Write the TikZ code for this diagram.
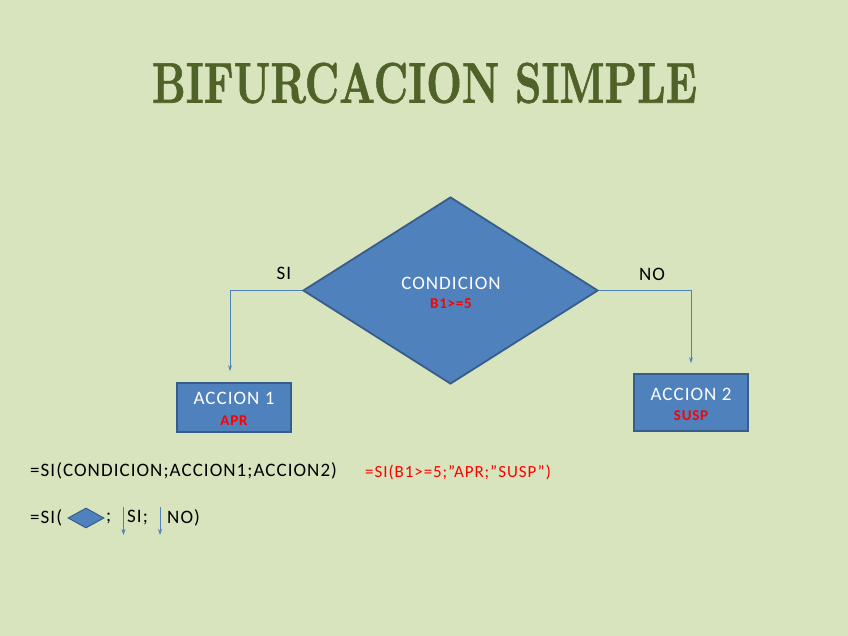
\documentclass[tikz,border=0pt]{standalone}
\usepackage{fontspec}
\setmainfont{Carlito}[LetterSpace=5.5]
\newfontfamily\titlefont{lmroman10-bold}[Extension=.otf, FakeBold=1.2]
\newfontfamily\redfont{Carlito}[LetterSpace=5]
\usetikzlibrary{shapes.geometric,arrows.meta}
\definecolor{bg}{HTML}{D7E4BD}
\definecolor{titlec}{HTML}{4F6228}
\definecolor{shapefill}{HTML}{4F81BD}
\definecolor{shapeline}{HTML}{385D8A}
\definecolor{redtxt}{HTML}{FF0000}
\tikzset{
  decision/.style={diamond, fill=shapefill, draw=shapeline, line width=1.8pt, inner sep=0pt, minimum width=295pt, minimum height=187pt},
  actionbox/.style={rectangle, fill=shapefill, draw=shapeline, line width=1.8pt, inner sep=0pt, minimum width=114pt},
  conn/.style={draw=shapefill, line width=0.9pt, -{Stealth[length=6pt,width=4pt]}},
  whitetxt/.style={text=white, font=\fontsize{19}{21}\selectfont, inner sep=0pt},
  redsmall/.style={text=redtxt, font=\redfont\fontsize{15}{17}\selectfont\bfseries, inner sep=0pt},
  blacktxt/.style={text=black, font=\fontsize{19}{21}\selectfont, inner sep=0pt},
}
\begin{document}
\begin{tikzpicture}[x=1pt,y=-1pt]
\path[fill=bg] (0,0) rectangle (848,636);
\useasboundingbox (0,0) rectangle (848,636);
% title
\node[inner sep=0pt, text=titlec] (title) at (424.5,83) {\resizebox{545pt}{40pt}{\titlefont BIFURCACION SIMPLE}};
% diamond
\node[decision] (dia) at (450.5,290.5) {};
\node[whitetxt] (cond) at (451,283) {CONDICION};
\node[redsmall] (b1) at (451,304) {B1>=5};
% boxes
\node[actionbox, minimum height=49pt] (acc1) at (234,407.5) {};
\node[whitetxt] (acc1t) at (234,398) {ACCION 1};
\node[redsmall] (apr) at (234,421) {APR};
\node[actionbox, minimum height=57pt] (acc2) at (691,402.5) {};
\node[whitetxt] (acc2t) at (691,394) {ACCION 2};
\node[redsmall] (susp) at (691,416) {SUSP};
% connectors
\draw[conn, shorten >=11pt] (dia.west) -| ([xshift=-4pt]acc1.north);
\draw[conn, shorten >=10pt] (dia.east) -| (acc2.north);
\node[blacktxt] (si) at (284,273) {SI};
\node[blacktxt] (no) at (652,274) {NO};
% formulas
\node[blacktxt, anchor=west] (f1) at (30,471) {=SI(CONDICION;ACCION1;ACCION2)};
\node[text=redtxt, font=\fontsize{17}{19}\selectfont, inner sep=0pt, anchor=west] (f2) at (365,472) {=SI(B1>=5;”APR;”SUSP”)};
\node[blacktxt, anchor=west] (f3a) at (30,518) {=SI(};
\node[diamond, fill=shapefill, draw=shapeline, line width=1pt, inner sep=0pt, minimum width=36pt, minimum height=20pt] (mini) at (86,518) {};
\node[blacktxt, anchor=west] (f3b) at (106,518) {;};
\coordinate (a1s) at (123.5,507);
\coordinate (a1e) at (123.5,535);
\draw[conn] (a1s) -- (a1e);
\node[blacktxt, anchor=west] (f3c) at (127,518) {SI;};
\coordinate (a2s) at (160,507);
\coordinate (a2e) at (160,535);
\draw[conn] (a2s) -- (a2e);
\node[blacktxt, anchor=west] (f3d) at (167,518) {NO)};
\end{tikzpicture}
\end{document}
